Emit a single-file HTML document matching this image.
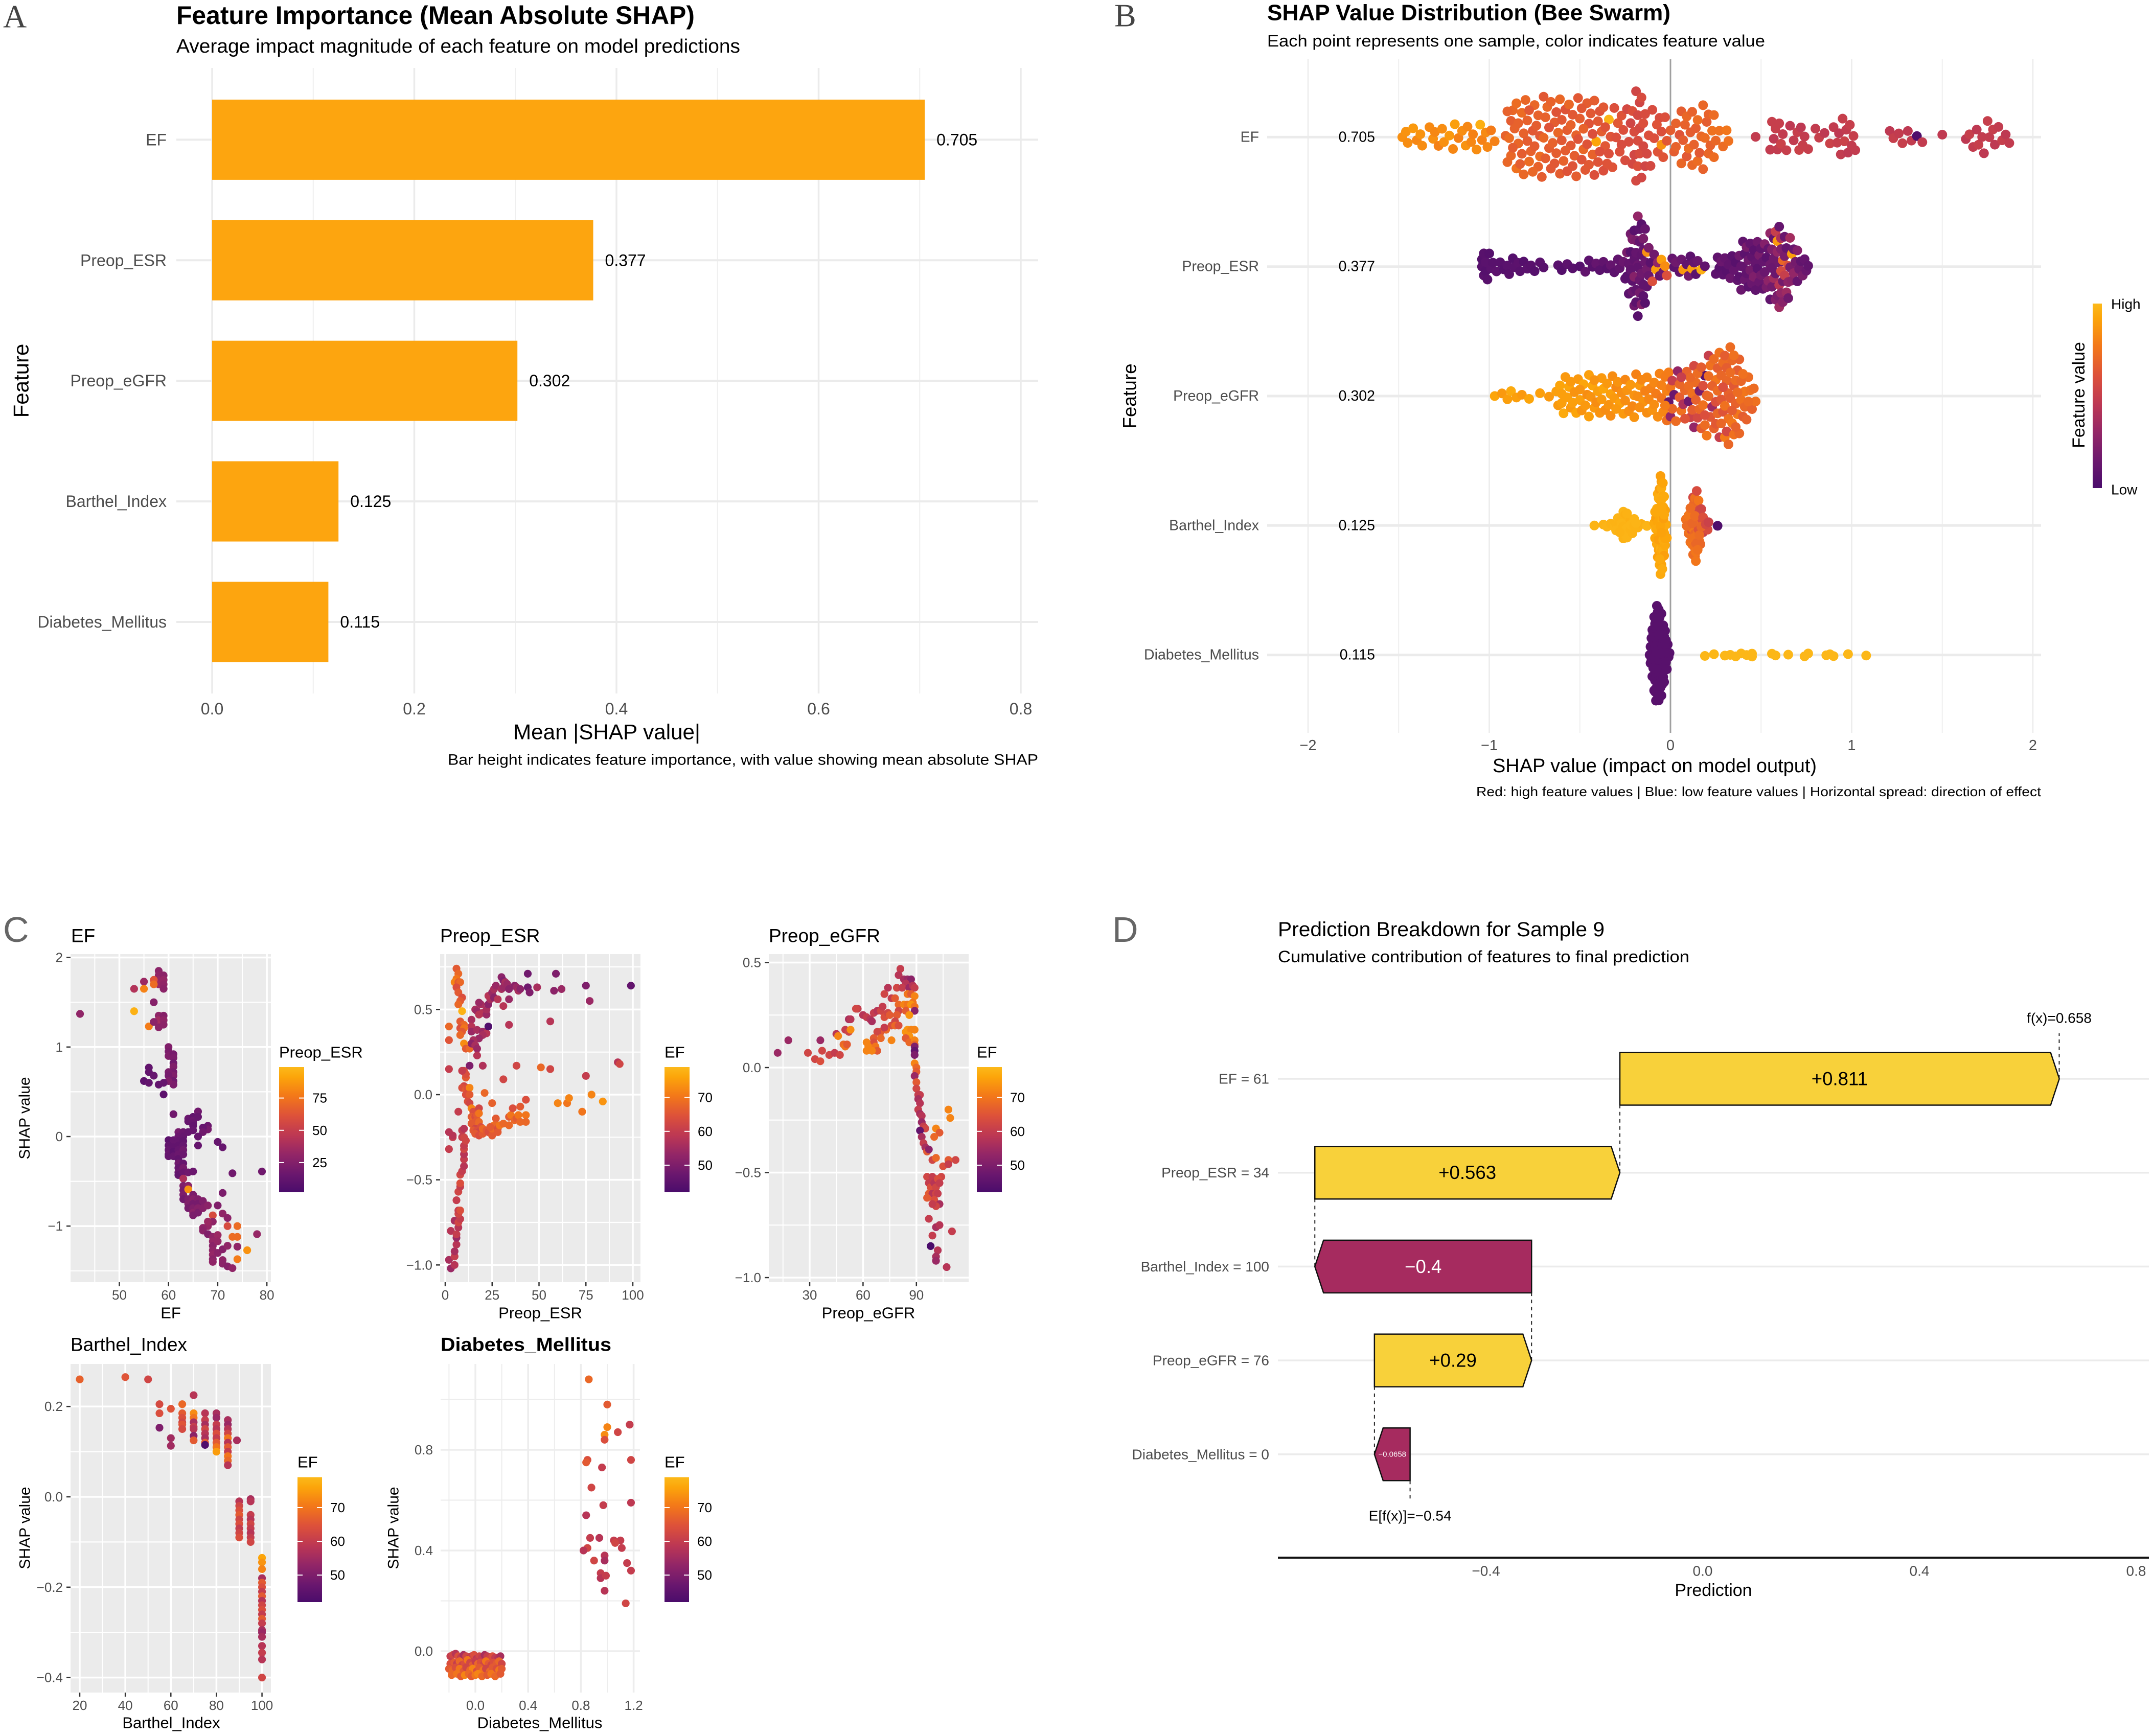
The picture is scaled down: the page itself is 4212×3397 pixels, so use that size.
<!DOCTYPE html>
<html lang="en">
<head>
<meta charset="utf-8">
<title>SHAP analysis figure</title>
<style>
html,body{margin:0;padding:0;background:#fff;}
svg{display:block;font-family:"Liberation Sans",Arial,sans-serif;}
text{dominant-baseline:central;}
</style>
</head>
<body>
<svg id="chart-root" xmlns="http://www.w3.org/2000/svg" width="4212" height="3397" viewBox="0 0 4212 3397">
<defs>
<linearGradient id="palette-gradient" x1="0" y1="1" x2="0" y2="0">
<stop offset="0" stop-color="#4a0c6b"/><stop offset="0.14" stop-color="#6a176e"/><stop offset="0.3" stop-color="#932667"/><stop offset="0.45" stop-color="#bc3754"/><stop offset="0.61" stop-color="#dd513a"/><stop offset="0.77" stop-color="#f37819"/><stop offset="0.92" stop-color="#fca50a"/><stop offset="1" stop-color="#fcb91a"/>
</linearGradient>
</defs>
<rect x="0" y="0" width="4212" height="3397" fill="#ffffff"/>

<g id="panel-a"></g>
<g id="panel-b"></g>
<g id="panel-c"></g>
<g id="panel-d"></g>

<g fill="#333">
<text x="6" y="32" font-size="64" font-family="Liberation Serif, serif" fill="#444">A</text>
<text x="2180" y="30" font-size="64" font-family="Liberation Serif, serif" fill="#444">B</text>
<text x="6" y="1819" font-size="70" fill="#666">C</text>
<text x="2176" y="1819" font-size="70" fill="#666">D</text>
</g>

<g fill="#000">
<text x="345" y="30" font-size="50" font-weight="700" textLength="1014" lengthAdjust="spacingAndGlyphs">Feature Importance (Mean Absolute SHAP)</text>
<text x="345" y="91" font-size="38" textLength="1103" lengthAdjust="spacingAndGlyphs">Average impact magnitude of each feature on model predictions</text>
<text x="1187" y="1432" font-size="42" text-anchor="middle" textLength="366" lengthAdjust="spacingAndGlyphs">Mean |SHAP value|</text>
<text x="2031" y="1487" font-size="30" text-anchor="end" textLength="1155" lengthAdjust="spacingAndGlyphs">Bar height indicates feature importance, with value showing mean absolute SHAP</text>
<text transform="translate(41,745) rotate(-90)" font-size="42" text-anchor="middle">Feature</text>
</g>

<g fill="#000">
<text x="2479" y="25" font-size="44" font-weight="700" textLength="789" lengthAdjust="spacingAndGlyphs">SHAP Value Distribution (Bee Swarm)</text>
<text x="2479" y="80" font-size="32" textLength="974" lengthAdjust="spacingAndGlyphs">Each point represents one sample, color indicates feature value</text>
<text x="3237" y="1499" font-size="38" text-anchor="middle" textLength="634" lengthAdjust="spacingAndGlyphs">SHAP value (impact on model output)</text>
<text x="3993" y="1549" font-size="26" text-anchor="end" textLength="1105" lengthAdjust="spacingAndGlyphs">Red: high feature values | Blue: low feature values | Horizontal spread: direction of effect</text>
<text transform="translate(2210,775) rotate(-90)" font-size="37" text-anchor="middle">Feature</text>
<text transform="translate(4067,773) rotate(-90)" font-size="34" text-anchor="middle">Feature value</text>
<rect x="4094" y="594" width="18" height="361" fill="url(#palette-gradient)"/>
<text x="4130" y="595" font-size="28">High</text>
<text x="4130" y="958" font-size="28">Low</text>
</g>

<g fill="#000">
<text x="139" y="1831" font-size="37">EF</text>
<text x="861" y="1831" font-size="37">Preop_ESR</text>
<text x="1504" y="1831" font-size="37">Preop_eGFR</text>
<text x="138" y="2631" font-size="37" textLength="228" lengthAdjust="spacingAndGlyphs">Barthel_Index</text>
<text x="862" y="2631" font-size="37" font-weight="700" textLength="334" lengthAdjust="spacingAndGlyphs">Diabetes_Mellitus</text>
<text x="334" y="2569" font-size="31" text-anchor="middle">EF</text>
<text x="1057" y="2569" font-size="31" text-anchor="middle">Preop_ESR</text>
<text x="1699" y="2569" font-size="31" text-anchor="middle">Preop_eGFR</text>
<text x="335" y="3371" font-size="31" text-anchor="middle">Barthel_Index</text>
<text x="1056" y="3371" font-size="31" text-anchor="middle">Diabetes_Mellitus</text>
<text transform="translate(48.5,2188) rotate(-90)" font-size="30" text-anchor="middle">SHAP value</text>
<text transform="translate(49,2990) rotate(-90)" font-size="30" text-anchor="middle">SHAP value</text>
<text transform="translate(770,2990) rotate(-90)" font-size="30" text-anchor="middle">SHAP value</text>
<text x="546" y="2059" font-size="31">Preop_ESR</text>
<text x="1300" y="2059" font-size="31">EF</text>
<text x="1911" y="2059" font-size="31">EF</text>
<text x="582" y="2861" font-size="31">EF</text>
<text x="1300" y="2861" font-size="31">EF</text>
</g>

<g fill="#000">
<text x="2500" y="1819" font-size="40" textLength="639" lengthAdjust="spacingAndGlyphs">Prediction Breakdown for Sample 9</text>
<text x="2500" y="1872" font-size="32" textLength="805" lengthAdjust="spacingAndGlyphs">Cumulative contribution of features to final prediction</text>
<text x="3352" y="3112" font-size="34" text-anchor="middle">Prediction</text>
</g>
</svg>

<script>
/* ---------- Panel A data ---------- */
const importanceFeatures=['EF','Preop_ESR','Preop_eGFR','Barthel_Index','Diabetes_Mellitus'];
const importanceValues=[0.705,0.377,0.302,0.125,0.115];
const importanceTicks=[0,0.2,0.4,0.6,0.8];

/* ---------- Panel B data ---------- */
const beeTicks=[-2,-1,0,1,2];
const beeBandwidths=[0.03,0.02,0.028,0.012,0.012];
const beeEfShap=[
-1.48,-1.46,-1.45,-1.42,-1.4,-1.38,-1.37,-1.33,-1.31,-1.3,
-1.28,-1.26,-1.25,-1.22,-1.2,-1.19,-1.17,-1.15,-1.13,-1.12,
-1.1,-1.09,-1.07,-1.05,-1.04,-1.02,-1.01,-0.99,-0.97,
-0.91,-0.9,-0.89,-0.88,-0.87,-0.86,-0.85,-0.84,-0.83,-0.82,
-0.81,-0.8,-0.79,-0.78,-0.77,-0.76,-0.75,-0.74,-0.73,-0.72,
-0.71,-0.7,-0.69,-0.68,-0.67,-0.66,-0.65,-0.64,-0.63,-0.62,
-0.61,-0.6,-0.59,-0.58,-0.57,-0.56,-0.55,-0.54,-0.53,-0.52,
-0.51,-0.5,-0.49,-0.48,-0.47,-0.46,-0.45,-0.44,-0.43,-0.42,
-0.41,-0.4,-0.39,-0.38,-0.37,-0.36,-0.35,-0.34,-0.33,-0.31,
-0.29,-0.27,
-0.24,-0.23,-0.22,-0.21,-0.21,-0.2,-0.2,-0.19,-0.19,-0.18,
-0.18,-0.18,-0.17,-0.17,-0.17,-0.16,-0.16,-0.15,-0.15,-0.14,
-0.14,-0.13,-0.12,-0.11,-0.1,
-0.09,-0.07,-0.06,-0.05,-0.04,-0.03,-0.02,0,
0.02,0.03,0.05,0.06,0.07,0.08,0.09,0.1,0.11,0.12,
0.13,0.14,0.15,0.16,0.17,0.18,0.19,0.2,0.21,0.22,
0.23,0.24,0.25,0.27,0.29,0.31,0.32,
0.47,
0.55,0.56,0.57,0.58,0.59,0.6,0.61,0.62,0.64,0.66,
0.68,0.7,0.71,0.72,0.73,0.74,0.76,0.8,0.82,0.85,
0.88,0.9,0.92,0.93,0.94,0.95,0.96,0.97,0.98,0.99,
1,1.01,1.02,
1.21,1.23,1.26,1.28,1.31,1.33,1.36,1.39,
1.5,
1.63,1.65,1.67,1.69,1.7,1.72,1.73,1.75,1.76,1.78,
1.79,1.81,1.83,1.85,1.87,
-0.9,-0.88,-0.87,-0.85,-0.84,-0.82,-0.81,-0.79,-0.78,-0.76,
-0.75,-0.73,-0.72,-0.7,-0.69,-0.67,-0.66,-0.64,-0.63,-0.61,
-0.6,-0.58,-0.57,-0.55,-0.54,-0.52,-0.51,-0.49,-0.48,-0.46,
-0.45,-0.43,-0.42,-0.4,-0.39,-0.37,-0.36,-0.34,-0.32,-0.3,
-0.28,-0.27,-0.26,-0.25,-0.075,-0.05,0.03,0.06,0.09,0.12,
0.15,0.18,0.21,0.24
];
const beeEfColor=[
.85,.86,.84,.88,.82,.86,.84,.83,.85,.82,
.8,.84,.85,.88,.82,.9,.8,.84,.86,.82,
.82,.8,.84,.96,.8,.83,.82,.78,.8,
.68,.7,.72,.66,.7,.68,.74,.7,.66,.72,
.68,.7,.66,.72,.68,.64,.7,.66,.68,.72,
.66,.64,.68,.7,.66,.64,.68,.66,.62,.7,
.66,.64,.68,.62,.66,.7,.64,.62,.66,.68,
.64,.66,.62,.7,.64,.66,.62,.64,.68,.6,
.92,.64,.62,.66,.6,.64,.62,.98,.62,.6,
.64,.62,
.56,.58,.54,.56,.6,.55,.58,.56,.54,.58,
.56,.6,.54,.58,.56,.55,.58,.56,.6,.54,
.58,.56,.6,.56,.58,
.6,.62,.58,.86,.62,.6,.64,.66,
.66,.68,.62,.7,.66,.68,.64,.72,.66,.7,
.68,.66,.72,.64,.7,.68,.72,.66,.7,.68,
.74,.72,.7,.74,.72,.76,.74,
.48,
.48,.5,.46,.5,.48,.5,.52,.48,.5,.46,
.48,.5,.52,.46,.5,.48,.5,.48,.5,.46,
.52,.48,.5,.46,.48,.5,.52,.48,.46,.5,
.48,.5,.48,
.46,.5,.48,.5,.46,.48,.02,.48,
.47,
.46,.5,.48,.46,.5,.48,.46,.5,.48,.5,
.46,.48,.5,.46,.48,
.68,.7,.66,.72,.68,.66,.7,.68,.64,.7,
.66,.68,.64,.7,.66,.62,.68,.64,.66,.7,
.64,.66,.62,.68,.64,.66,.62,.64,.68,.62,
.64,.6,.66,.62,.6,.64,.62,.6,.62,.6,
.6,.58,.6,.58,.62,.6,.68,.66,.7,.68,
.72,.7,.68,.72
];
const beeEsrShap=[
-1.04,-1.04,-1.03,-1.03,-1.02,-1.02,-1.01,-1,-0.99,-0.98,
-0.96,-0.94,-0.92,-0.9,-0.89,-0.87,-0.86,-0.84,-0.83,-0.81,
-0.79,-0.77,-0.75,-0.72,-0.7,
-0.62,-0.6,-0.57,-0.54,-0.5,-0.47,-0.45,-0.43,-0.41,-0.39,
-0.37,-0.35,-0.33,-0.31,-0.29,
-0.28,-0.26,-0.25,-0.24,-0.24,-0.23,-0.23,-0.22,-0.22,-0.22,
-0.21,-0.21,-0.21,-0.2,-0.2,-0.2,-0.2,-0.19,-0.19,-0.19,
-0.19,-0.18,-0.18,-0.18,-0.18,-0.17,-0.17,-0.17,-0.17,-0.16,
-0.16,-0.16,-0.16,-0.15,-0.15,-0.15,-0.15,-0.14,-0.14,-0.14,
-0.13,-0.13,-0.13,-0.12,-0.12,-0.11,-0.1,-0.09,-0.08,-0.07,
-0.06,-0.05,-0.04,-0.03,-0.02,
0.01,0.02,0.03,0.05,0.06,0.07,0.09,0.1,0.11,0.12,
0.13,0.14,0.15,0.17,0.19,
0.25,0.26,0.27,0.28,0.29,0.3,0.31,0.32,0.33,0.34,
0.35,0.36,0.37,0.38,0.38,0.39,0.39,0.4,
0.4,0.41,0.41,0.42,0.42,0.43,0.43,0.44,0.44,0.45,
0.45,0.46,0.46,0.47,0.47,0.48,0.48,0.49,0.49,0.5,
0.5,0.51,0.51,0.52,0.52,0.53,0.53,0.54,0.54,0.55,
0.55,0.55,0.56,0.56,0.56,0.57,0.57,0.57,0.58,0.58,
0.58,0.59,0.59,0.59,0.6,0.6,0.6,0.6,0.61,0.61,
0.61,0.61,0.62,0.62,0.62,0.63,0.63,0.63,0.64,0.64,
0.65,0.65,0.65,0.66,0.66,0.67,0.67,0.68,0.68,0.69,
0.7,0.7,0.71,0.72,0.73,0.74,0.75,0.76
];
const beeEsrColor=[
.06,.05,.07,.06,.05,.07,.06,.05,.07,.06,
.08,.06,.05,.07,.06,.05,.07,.08,.06,.05,
.07,.06,.05,.07,.06,
.06,.05,.08,.06,.05,.1,.08,.06,.12,.07,
.1,.06,.12,.08,.1,
.1,.14,.08,.2,.06,.12,.08,.18,.1,.06,
.14,.22,.08,.1,.16,.06,.25,.12,.08,.2,
.1,.14,.06,.3,.1,.12,.18,.08,.14,.1,
.24,.06,.16,.12,.08,.2,.1,.14,.06,.12,
.18,.85,.1,.2,.14,.08,.6,.16,.9,.3,
.12,.9,.16,.84,.6,
.12,.08,.16,.1,.14,.88,.1,.18,.08,.9,
.12,.08,.14,.96,.1,
.08,.1,.06,.14,.08,.12,.06,.1,.14,.08,
.12,.06,.1,.16,.08,.12,.14,.1,
.12,.08,.14,.2,.1,.16,.08,.12,.18,.1,
.14,.08,.22,.12,.1,.16,.08,.2,.14,.1,
.18,.12,.1,.24,.14,.08,.2,.12,.28,.16,
.1,.3,.14,.22,.18,.12,.36,.16,.24,.5,
.14,.3,.2,.88,.44,.16,.34,.12,.56,.22,
.3,.4,.18,.7,.26,.14,.5,.2,.34,.12,
.28,.6,.16,.36,.2,.9,.26,.14,.3,.18,
.12,.24,.16,.1,.2,.12,.14,.1
];
const beeEgfrShap=[
-0.97,-0.93,-0.9,-0.88,-0.85,-0.82,-0.78,-0.72,-0.67,
-0.63,-0.62,-0.61,-0.6,-0.59,-0.58,-0.57,-0.56,-0.55,-0.54,
-0.53,-0.52,-0.51,-0.5,-0.49,-0.48,-0.47,-0.46,-0.45,-0.44,
-0.43,-0.42,-0.41,-0.4,-0.39,-0.38,-0.37,-0.36,-0.35,-0.34,
-0.33,-0.32,-0.31,-0.3,-0.29,-0.28,-0.27,-0.26,-0.25,-0.24,
-0.23,-0.22,-0.21,-0.2,-0.19,-0.18,-0.17,-0.16,-0.15,-0.14,
-0.13,-0.12,-0.11,-0.1,-0.09,-0.08,-0.07,-0.06,-0.05,-0.04,
-0.03,-0.02,-0.02,-0.01,-0.01,0,0,0.01,0.01,0.02,
0.03,0.04,0.05,0.06,0.07,0.08,0.09,0.1,0.1,0.11,
0.12,0.12,0.13,0.14,0.14,0.15,0.16,0.16,0.17,0.18,
0.18,0.19,0.19,0.2,0.2,0.21,0.21,0.22,0.22,0.23,
0.24,0.24,0.25,0.25,0.26,0.26,0.27,0.27,0.28,0.28,
0.29,0.29,0.3,0.3,0.31,0.31,0.32,0.32,0.33,0.33,
0.34,0.34,0.35,0.35,0.36,0.36,0.37,0.37,0.38,0.38,
0.39,0.4,0.41,0.41,0.42,0.43,0.44,0.45,0.46,0.47,
-0.6,-0.55,-0.5,-0.45,-0.42,-0.38,-0.33,-0.3,-0.25,-0.2,
-0.17,-0.13,-0.09,-0.05,-0.03,
0.05,0.08,0.11,0.13,0.15,0.17,0.19,0.21,0.23,0.25,
0.26,0.28,0.29,0.3,0.31,0.32,0.33,0.34,0.35,0.36,
0.37,0.39,0.4,0.43,0.06
];
const beeEgfrColor=[
.92,.88,.9,.94,.9,.88,.92,.9,.88,
.9,.88,.92,.9,.94,.88,.9,.92,.88,.9,
.86,.92,.88,.9,.86,.92,.88,.84,.9,.86,
.92,.88,.84,.9,.86,.88,.92,.84,.88,.86,
.9,.84,.88,.82,.86,.9,.84,.88,.82,.86,
.84,.88,.82,.86,.8,.84,.88,.82,.86,.8,
.84,.82,.8,.86,.82,.78,.84,.8,.76,.82,
.78,.8,.74,.78,.12,.76,.3,.5,.7,.14,
.72,.3,.66,.74,.4,.7,.68,.16,.72,.52,
.66,.74,.3,.68,.72,.56,.7,.2,.66,.74,
.6,.72,.06,.68,.76,.5,.7,.64,.74,.34,
.68,.72,.6,.76,.66,.7,.5,.74,.64,.7,
.72,.62,.78,.66,.7,.56,.74,.68,.72,.66,
.76,.7,.64,.74,.68,.72,.66,.76,.7,.68,
.74,.66,.7,.76,.68,.72,.74,.68,.72,.74,
.9,.88,.86,.9,.86,.88,.84,.88,.84,.86,
.84,.82,.84,.8,.78,
.7,.62,.7,.56,.72,.66,.6,.72,.68,.64,
.72,.7,.6,.74,.66,.7,.72,.66,.74,.68,
.72,.7,.74,.72,.5
];
const beeBarthelShap=[
-0.42,-0.37,-0.35,-0.33,-0.31,-0.3,-0.29,-0.28,-0.27,-0.27,
-0.26,-0.26,-0.25,-0.25,-0.25,-0.24,-0.24,-0.23,-0.23,-0.22,
-0.21,-0.2,-0.18,-0.16,-0.13,
-0.09,-0.085,-0.08,-0.08,-0.075,-0.075,-0.07,-0.07,-0.07,-0.065,
-0.065,-0.065,-0.06,-0.06,-0.06,-0.06,-0.055,-0.055,-0.055,-0.055,
-0.05,-0.05,-0.05,-0.05,-0.05,-0.045,-0.045,-0.045,-0.045,-0.04,
-0.04,-0.04,-0.04,-0.035,-0.035,-0.035,-0.03,-0.03,-0.025,-0.02,
0.095,0.1,0.105,0.11,0.11,0.115,0.115,0.12,0.12,0.12,
0.125,0.125,0.125,0.13,0.13,0.13,0.135,0.135,0.135,0.135,
0.14,0.14,0.14,0.14,0.145,0.145,0.145,0.15,0.15,0.15,
0.155,0.155,0.155,0.16,0.16,0.165,0.165,0.17,0.175,0.18,
0.19,0.205,
0.26,
-0.3,-0.28,-0.27,-0.26,-0.25,-0.24,-0.24,-0.22,-0.22,-0.2,
-0.19,-0.28,
-0.085,-0.075,-0.07,-0.065,-0.06,-0.058,-0.055,-0.052,-0.05,-0.048,
-0.045,-0.042,-0.04,-0.038,-0.035,-0.03,-0.06,-0.05,
0.085,0.09,0.1,0.11,0.12,0.13,0.135,0.14,0.145,0.15,
0.16,0.17,0.18,0.195,0.21
];
const beeBarthelColor=[
.98,.97,.98,.97,.98,.97,.98,.97,.98,.96,
.97,.98,.97,.98,.96,.97,.98,.97,.98,.96,
.97,.98,.97,.96,.98,
.93,.92,.94,.9,.93,.95,.92,.9,.94,.93,
.91,.95,.92,.94,.9,.93,.96,.92,.94,.9,
.93,.95,.91,.94,.92,.9,.96,.93,.94,.91,
.92,.95,.93,.9,.94,.92,.93,.91,.94,.92,
.74,.72,.76,.7,.74,.62,.72,.76,.7,.74,
.72,.56,.76,.72,.74,.7,.78,.72,.74,.7,
.76,.72,.7,.74,.58,.76,.72,.7,.74,.72,
.76,.62,.72,.74,.56,.72,.7,.54,.6,.5,
.52,.58,
.02,
.98,.97,.98,.97,.98,.97,.98,.97,.98,.97,
.98,.97,
.93,.92,.94,.9,.93,.95,.92,.94,.9,.93,
.95,.92,.94,.9,.93,.92,.94,.91,
.74,.72,.76,.72,.7,.74,.72,.76,.7,.74,
.72,.7,.6,.56,.52
];
const beeDiabetesShap=[
-0.115,-0.11,-0.11,-0.105,-0.105,-0.1,-0.1,-0.1,-0.095,-0.095,
-0.095,-0.09,-0.09,-0.09,-0.09,-0.085,-0.085,-0.085,-0.085,-0.08,
-0.08,-0.08,-0.08,-0.08,-0.075,-0.075,-0.075,-0.075,-0.07,-0.07,
-0.07,-0.07,-0.07,-0.065,-0.065,-0.065,-0.065,-0.06,-0.06,-0.06,
-0.06,-0.055,-0.055,-0.055,-0.05,-0.05,-0.05,-0.045,-0.045,-0.04,
-0.04,-0.035,-0.035,-0.03,-0.03,-0.025,-0.02,-0.015,-0.01,-0.005,
0.19,0.24,0.3,0.33,0.36,0.39,0.42,0.45,0.45,0.56,
0.58,0.65,0.74,0.76,0.86,0.88,0.9,0.98,1.08,
-0.1,-0.095,-0.09,-0.085,-0.08,-0.08,-0.075,-0.07,-0.07,-0.065,
-0.06,-0.06,-0.055,-0.055,-0.05,-0.05,-0.045,-0.045,-0.04,-0.04,
-0.035,-0.035,-0.03,-0.03,-0.025,-0.02,-0.065,-0.075,-0.085,-0.055
];
const beeDiabetesColor=[
.06,.06,.06,.06,.06,.06,.06,.06,.06,.06,
.06,.06,.06,.06,.06,.06,.06,.06,.06,.06,
.06,.06,.06,.06,.06,.06,.06,.06,.06,.06,
.06,.06,.06,.06,.06,.06,.06,.06,.06,.06,
.06,.06,.06,.06,.06,.06,.06,.06,.06,.06,
.06,.06,.06,.06,.06,.06,.06,.06,.06,.06,
.99,.99,.99,.99,.99,.99,.99,.99,.99,.99,
.99,.99,.99,.99,.99,.99,.99,.99,.99,
.06,.06,.06,.06,.06,.06,.06,.06,.06,.06,
.06,.06,.06,.06,.06,.06,.06,.06,.06,.06,
.06,.06,.06,.06,.06,.06,.06,.06,.06,.06
];

/* ---------- Panel C data ---------- */
const efPanelXTicks=[50,60,70,80];
const efPanelYTicks=[2,1,0,-1];
const efPanelLegendTicks=[75,50,25];
const efPanelX=[
58,58,58,58,59,59,59,59,57,57,55,53,
55,57,42,53,56,58,58,58,58,59,59,59,
57,60,60,60,61,61,61,61,61,61,61,61,
60,60,60,56,56,57,55,56,58,59,59,61,
64,64,65,65,65,65,66,66,68,68,67,67,
65,66,66,60,61,62,62,62,63,63,63,64,
60,60,60,60,61,61,61,62,62,62,62,62,
62,62,62,63,63,63,63,63,63,64,65,70,
71,73,79,63,63,63,63,63,64,64,64,64,
64,65,65,65,65,65,65,66,66,66,66,67,
67,68,70,71,71,72,69,69,68,68,67,67,
68,69,69,69,69,69,69,69,70,70,70,71,
71,71,72,72,72,73,74,74,74,74,73,76,78
];
const efPanelShap=[
1.85,1.8,1.75,1.7,1.8,1.75,1.7,1.65,1.75,1.7,1.73,1.65,
1.65,1.5,1.37,1.4,1.23,1.35,1.3,1.25,1.22,1.35,1.3,1.25,
1.28,1,.95,.9,.92,.88,.82,.78,.72,.68,.62,.58,
.72,.68,.62,.77,.72,.68,.62,.6,.58,.6,.47,.25,
.2,.17,.22,.18,.15,.12,.28,.22,.12,.08,.1,.05,
.07,0,-.1,-.04,-.04,.05,0,-.05,.05,0,-.05,.05,
-.1,-.15,-.2,-.22,-.12,-.17,-.22,-.1,-.15,-.2,-.25,-.3,
-.35,-.4,-.43,-.1,-.15,-.2,-.3,-.35,-.4,-.4,-.39,-.06,
-.12,-.41,-.39,-.47,-.55,-.6,-.65,-.7,-.55,-.59,-.7,-.75,
-.8,-.65,-.7,-.75,-.8,-.85,-.88,-.7,-.75,-.8,-.85,-.72,
-.8,-.77,-.77,-.63,-.86,-.91,-.88,-.95,-1,-.95,-1.02,-1.05,
-1.09,-1.12,-1.17,-1.22,-1.27,-1.32,-1.37,-1.4,-1.1,-1.17,-1.3,-1.26,
-1.38,-1.42,-1,-1.22,-1.45,-1.47,-1,-1.12,-1.23,-1.37,-1.12,-1.27,-1.09
];
const efPanelColor=[
28,30,32,34,28,32,30,28,62,72,34,42,
80,26,30,96,78,30,36,38,28,26,30,28,
28,24,22,24,20,22,18,24,20,24,18,22,
22,20,24,12,12,14,10,12,12,14,10,18,
16,14,12,16,14,12,18,14,16,20,14,18,
14,14,14,10,14,20,16,14,16,14,12,14,
12,14,16,14,12,10,14,12,14,16,12,18,
14,16,12,14,18,16,14,20,16,18,16,14,
14,18,18,40,24,20,22,18,28,85,22,24,
20,22,26,20,24,28,22,24,20,26,22,24,
26,28,24,22,30,28,58,30,32,34,30,28,
24,30,32,28,30,32,28,30,34,32,28,26,
30,28,58,30,26,30,72,72,30,78,72,85,32
];
const esrPanelXTicks=[0,25,50,75,100];
const esrPanelYTicks=[0.5,0,-0.5,-1];
const esrPanelLegendTicks=[70,60,50];
const esrPanelX=[
3,2,5,5,5,6,6,3,6,7,5,7,
8,7,7,8,6,7,8,8,8,9,10,10,
10,10,10,11,9,10,9,10,2,4,2,4,
10,11,11,10,9,11,12,13,12,11,13,12,
13,7,21,25,
14,15,14,15,16,17,18,18,16,17,15,14,
16,18,19,15,17,18,16,18,20,20,
22,23,25,25,26,27,27,28,28,29,31,24,
34,34,35,36,37,38,39,40,40,43,43,43,
60,65,66,73,78,84,
51,56,38,31,20,13,2,9,75,92,93,
6,7,6,5,7,8,6,7,9,8,7,9,
2,2,8,10,8,10,9,8,10,11,13,
14,14,14,17,20,22,20,23,18,15,14,16,17,17,
16,17,18,19,18,20,22,22,23,24,23,25,
26,26,27,28,30,31,30,31,32,33,34,34,
31,37,38,39,40,44,45,49,44,59,58,62,
75,77,99,34,56
];
const esrPanelShap=[
-1.02,-.97,-1,-.95,-.92,-.88,-.84,-.8,-.82,-.78,-.74,-.75,
-.73,-.7,-.68,-.68,-.62,-.57,-.54,-.52,-.47,-.45,-.42,-.38,
-.35,-.32,-.3,-.27,-.25,-.25,-.21,-.2,-.22,-.25,-.32,-.24,
.14,.1,.12,.05,.04,.03,.04,.04,0,0,0,-.04,
-.05,-.1,.01,-.05,
-.08,-.1,-.13,-.14,-.13,-.12,-.08,-.11,-.16,-.17,-.18,-.17,
-.2,-.16,-.19,-.21,-.21,-.22,-.23,-.24,-.23,-.2,
-.21,-.22,-.24,-.2,-.18,-.14,-.18,-.2,-.22,-.18,-.17,-.19,
-.18,-.13,-.12,-.08,-.15,-.14,-.12,-.16,-.07,-.12,-.16,-.03,
-.05,-.05,-.02,-.1,0,-.04,
.16,.15,.17,.09,.17,.17,.15,.14,.11,.19,.18,
.74,.71,.68,.66,.66,.66,.63,.6,.57,.55,.53,.49,
.4,.32,.43,.41,.39,.39,.37,.35,.3,.27,.27,
.44,.4,.37,.38,.37,.36,.35,.4,.33,.32,.3,.29,.27,.23,
.5,.49,.47,.53,.54,.48,.47,.5,.53,.56,.58,.6,
.57,.62,.64,.56,.62,.63,.69,.67,.66,.65,.62,.56,
.52,.64,.63,.61,.62,.63,.6,.63,.71,.71,.61,.62,
.64,.55,.64,.41,.43
];
const esrPanelColor=[
54,56,58,60,56,58,54,58,60,58,56,62,
60,62,60,64,60,62,60,64,62,60,58,60,
58,62,60,62,60,62,60,58,58,60,60,58,
62,66,64,62,64,66,64,72,62,64,66,64,
62,60,68,67,
72,64,66,68,64,66,62,70,66,64,68,66,
62,68,64,66,64,62,66,64,66,68,
66,64,66,68,70,66,68,64,66,70,68,66,
68,66,70,64,68,66,70,68,66,70,68,64,
72,70,72,70,72,74,
68,62,62,62,57,50,60,60,60,58,62,
66,68,70,72,66,68,64,66,64,66,68,78,
68,65,66,68,64,70,66,68,73,66,68,
56,58,54,56,54,58,56,43,54,56,52,56,54,58,
56,54,58,56,54,58,54,56,52,56,58,54,
52,56,54,58,56,54,52,50,56,54,52,54,
58,52,54,56,52,48,50,56,48,50,52,54,
50,54,46,58,58
];
const egfrPanelXTicks=[30,60,90];
const egfrPanelYTicks=[0.5,0,-0.5,-1];
const egfrPanelLegendTicks=[70,60,50];
const egfrPanelX=[
12,18,29,33,36,37,36,41,44,45,47,46,49,50,51,
50,52,53,52,53,57,56,60,62,64,65,66,68,70,71,72,74,75,76,73,70,68,66,66,70,72,62,63,62,67,68,65,76,
81,80,79,83,85,86,87,84,82,86,88,89,85,87,89,88,74,72,76,78,80,80,83,85,87,89,89,84,86,79,78,78,80,85,84,87,86,89,84,86,89,89,89,89,89,
89,90,90,89,90,90,91,92,91,92,91,92,93,93,94,95,92,93,94,95,96,101,103,100,108,109,
97,99,101,108,112,105,108,104,
96,97,98,99,100,101,102,103,97,99,101,102,100,96,103,101,99,97,101,103,99,110,98,102,101,101,107
];
const egfrPanelShap=[
.07,.13,.07,.04,.03,.08,.13,.06,.07,.16,.06,.15,.11,.1,.11,
.18,.17,.18,.23,.23,.28,.28,.25,.24,.23,.22,.26,.27,.27,.29,.24,.26,.25,.2,.18,.17,.17,.14,.12,.14,.19,.12,.1,.08,.1,.08,.08,.13,
.47,.44,.38,.42,.42,.41,.42,.4,.38,.38,.39,.38,.35,.35,.34,.31,.38,.35,.33,.33,.3,.27,.3,.3,.3,.29,.27,.27,.25,.25,.22,.2,.2,.18,.17,.18,.15,.18,.14,.12,.13,.11,.1,.08,.06,
.02,0,-.02,-.04,-.07,-.1,-.13,-.13,-.15,-.17,-.2,-.22,-.23,-.26,-.28,-.29,-.3,-.33,-.36,-.38,-.4,-.29,-.31,-.33,-.2,-.24,
-.39,-.44,-.43,-.44,-.44,-.47,-.46,-.52,
-.52,-.55,-.57,-.52,-.55,-.57,-.53,-.55,-.6,-.6,-.6,-.6,-.63,-.62,-.65,-.66,-.65,-.72,-.76,-.75,-.8,-.78,-.85,-.87,-.9,-.92,-.95
];
const egfrPanelColor=[
54,54,62,62,64,62,54,62,60,58,62,72,68,70,66,
60,62,73,56,58,60,62,58,60,58,56,60,58,62,60,64,62,66,64,68,66,62,66,64,68,60,72,72,72,70,66,72,72,
60,58,62,56,54,56,52,58,60,54,58,60,70,66,72,70,58,62,60,66,68,62,72,70,74,70,52,66,74,66,62,68,64,74,74,72,74,72,66,68,72,68,50,46,50,
72,68,66,54,66,62,60,60,56,58,60,56,58,54,60,62,46,56,60,56,66,72,66,68,72,72,
52,62,68,66,62,64,60,62,
62,60,64,60,58,62,64,60,66,58,62,60,64,66,56,62,60,60,56,58,60,60,42,58,56,54,58
];
const barthelPanelXTicks=[20,40,60,80,100];
const barthelPanelYTicks=[0.2,0,-0.2,-0.4];
const barthelPanelLegendTicks=[70,60,50];
const barthelPanelX=[
20,40,50,55,55,55,60,60,60,65,65,65,65,65,65,
70,70,70,70,70,70,70,70,
75,75,75,75,75,75,75,75,
80,80,80,80,80,80,80,80,80,
85,85,85,85,85,85,85,85,85,85,85,89,
90,90,90,90,90,90,90,90,90,
95,95,95,95,95,95,95,95,95,
100,100,100,100,100,100,100,100,100,100,100,100,100,100,100,100,100,100,100,100,100
];
const barthelPanelShap=[
.26,.265,.26,.205,.185,.153,.195,.13,.113,.205,.185,.175,.165,.16,.15,
.225,.185,.175,.165,.155,.15,.135,.125,
.185,.17,.16,.15,.14,.13,.12,.115,
.185,.175,.16,.15,.14,.13,.12,.11,.1,
.17,.16,.15,.14,.13,.12,.11,.1,.09,.08,.07,.125,
-.01,-.02,-.03,-.04,-.05,-.06,-.07,-.08,-.09,
-.005,-.01,-.04,-.05,-.06,-.07,-.08,-.09,-.1,
-.135,-.145,-.16,-.18,-.19,-.2,-.21,-.22,-.23,-.24,-.25,-.26,-.27,-.28,-.295,-.3,-.31,-.33,-.345,-.36,-.4
];
const barthelPanelColor=[
67,65,62,63,64,50,65,55,55,68,66,64,62,65,63,
58,73,70,56,60,58,52,66,
58,60,56,62,58,56,66,43,
56,54,60,58,64,60,66,70,75,
56,54,58,62,70,58,66,60,70,68,58,56,
58,62,64,66,62,64,60,62,64,
56,58,60,58,62,60,58,60,62,
76,74,72,56,66,64,60,66,58,62,64,60,66,60,56,54,56,58,60,58,62
];
const diabetesPanelXTicks=[0,0.4,0.8,1.2];
const diabetesPanelYTicks=[0,0.4,0.8];
const diabetesPanelLegendTicks=[70,60,50];
const diabetesPanelX=[
.86,1,1.17,1,1.08,.98,.98,.85,.84,1.18,.96,.88,.97,1.18,.84,.87,.94,
1.05,1.1,1.06,1.11,.85,.82,.98,.98,.9,1.15,1.18,.95,.95,.99,.98,1.14,
-.19,-.17,-.15,-.13,-.11,-.09,-.07,-.05,-.03,-.01,.01,.03,.05,.07,.09,.11,.13,.15,.17,.19,
-.19,-.16,-.14,-.12,-.1,-.08,-.06,-.04,-.02,0,.02,.04,.06,.08,.1,.12,.14,.16,.18,.2,
-.2,-.17,-.15,-.12,-.09,-.07,-.04,-.02,.01,.03,.06,.08,.11,.13,.16,.18,.2,
-.18,-.14,-.11,-.08,-.05,-.03,0,.02,.05,.09,.12,.15,.19
];
const diabetesPanelShap=[
1.08,.98,.9,.89,.87,.86,.84,.76,.75,.76,.73,.65,.58,.59,.54,.45,.45,
.44,.44,.43,.41,.41,.4,.38,.36,.36,.35,.32,.31,.29,.3,.24,.19,
-.02,-.015,-.01,-.02,-.025,-.015,-.02,-.03,-.02,-.015,-.03,-.02,-.025,-.015,-.02,-.03,-.02,-.025,-.03,-.02,
-.05,-.045,-.05,-.04,-.055,-.05,-.035,-.045,-.055,-.04,-.05,-.045,-.055,-.04,-.05,-.055,-.045,-.05,-.04,-.05,
-.07,-.075,-.065,-.07,-.08,-.065,-.075,-.07,-.08,-.065,-.075,-.07,-.08,-.065,-.07,-.075,-.07,
-.095,-.09,-.1,-.095,-.09,-.1,-.095,-.09,-.1,-.095,-.09,-.1,-.09
];
const diabetesPanelColor=[
68,66,60,72,62,73,64,64,66,62,60,62,60,59,58,60,58,
60,60,62,60,62,58,58,56,62,60,60,60,58,60,58,62,
60,62,58,64,60,56,62,58,60,64,58,62,60,56,60,62,64,60,58,56,
64,66,60,68,62,64,70,62,66,60,68,64,62,70,66,62,64,66,68,62,
66,68,64,70,66,62,68,72,64,66,70,62,68,66,64,70,66,
68,70,66,72,68,66,70,72,68,66,70,68,66
];

/* ---------- Panel D data ---------- */
const waterfallLabels=['EF = 61','Preop_ESR = 34','Barthel_Index = 100','Preop_eGFR = 76','Diabetes_Mellitus = 0'];
const waterfallValues=[0.811,0.563,-0.4,0.29,-0.0658];
const waterfallBase=[-0.54];
const waterfallOutput=[0.658];
const waterfallTicks=[-0.4,0,0.4,0.8];

/* ---------- helpers ---------- */
const NS='http://www.w3.org/2000/svg';
const MINUS='\u2212';
const paletteStops=[[0,[74,12,107]],[.14,[106,23,110]],[.3,[147,38,103]],[.45,[188,55,84]],[.61,[221,81,58]],[.77,[243,120,25]],[.92,[252,165,10]],[1,[252,185,26]]];
function colorOf(t){
  t=Math.max(0,Math.min(1,t));
  for(let i=1;i<paletteStops.length;i++){
    if(t<=paletteStops[i][0]){
      const a=paletteStops[i-1],b=paletteStops[i],f=(t-a[0])/(b[0]-a[0]);
      return 'rgb('+a[1].map((v,k)=>Math.round(v+(b[1][k]-v)*f)).join(',')+')';
    }
  }
  return 'rgb(252,185,26)';
}
function make(tag,attrs,parent){
  const el=document.createElementNS(NS,tag);
  for(const k in attrs){el.setAttribute(k,attrs[k]);}
  parent.appendChild(el);
  return el;
}
function addLine(parent,x1,y1,x2,y2,stroke,width,name){
  const el=make('line',{x1:x1,y1:y1,x2:x2,y2:y2,stroke:stroke,'stroke-width':width},parent);
  
  
  return el;
}
function addLabel(parent,x,y,str,size,fill,anchor,name){
  const el=make('text',{x:x,y:y,'font-size':size,fill:fill,'text-anchor':anchor},parent);
  el.textContent=str;
  
  
  return el;
}
function addDot(parent,cx,cy,r,fill,name){
  const el=make('circle',{cx:cx,cy:cy,r:r,fill:fill},parent);
  
  
  return el;
}
function fmtTick(v,decimals){
  const s=Math.abs(v).toFixed(decimals);
  return (v<0?MINUS:'')+s;
}
function minorsOf(ticks){
  const sorted=ticks.slice().sort((a,b)=>a-b);
  const step=sorted[1]-sorted[0];
  const out=[sorted[0]-step/2];
  sorted.forEach(t=>out.push(t+step/2));
  return out;
}
function slug(s){return s.toLowerCase().replace(/[^a-z0-9]+/g,'-');}

/* ---------- Panel A ---------- */
(function(){
  const g=document.getElementById('panel-a');
  const xA=v=>415+v*1977.5;
  const yA=i=>273.4+i*235.9;
  minorsOf(importanceTicks).forEach(t=>{
    if(xA(t)>345&&xA(t)<2031){addLine(g,xA(t),133,xA(t),1357,'#efefef',2,'importance-minor-gridline');}
  });
  importanceTicks.forEach(t=>{
    addLine(g,xA(t),133,xA(t),1357,'#ebebeb',3.5,'importance-major-gridline');
    addLabel(g,xA(t),1387,t.toFixed(1),32,'#4d4d4d','middle','importance-x-tick-label');
  });
  importanceFeatures.forEach((f,i)=>{
    addLine(g,345,yA(i),2031,yA(i),'#ebebeb',4,'importance-row-gridline');
  });
  importanceFeatures.forEach((f,i)=>{
    const bar=make('rect',{x:xA(0),y:yA(i)-78.5,width:xA(importanceValues[i])-xA(0),height:157,fill:'#fda50f'},g);
    
    
    addLabel(g,326,yA(i),f,32,'#4d4d4d','end','importance-feature-label');
    addLabel(g,xA(importanceValues[i])+23,yA(i),importanceValues[i].toFixed(3),32,'#000','start','importance-value-label');
  });
})();

/* ---------- Panel B ---------- */
function vdc(n){let v=0,d=.5;while(n>0){if(n&1){v+=d;}n>>=1;d/=2;}return v;}
function swarmOffsets(vals,bw){
  const order=vals.map((v,i)=>i).sort((a,b)=>vals[a]-vals[b]);
  const dens=vals.map(v=>vals.reduce((s,u)=>s+Math.exp(-.5*Math.pow((u-v)/bw,2)),0));
  const m=Math.max.apply(null,dens);
  const out=new Array(vals.length);
  order.forEach((idx,r)=>{out[idx]=(2*vdc(r+1)-1)*dens[idx]/m;});
  return out;
}
(function(){
  const g=document.getElementById('panel-b');
  const xB=v=>3268+v*354.5;
  const yB=i=>268.4+i*253.3;
  const rowShap=[beeEfShap,beeEsrShap,beeEgfrShap,beeBarthelShap,beeDiabetesShap];
  const rowColor=[beeEfColor,beeEsrColor,beeEgfrColor,beeBarthelColor,beeDiabetesColor];
  minorsOf(beeTicks).forEach(t=>{
    if(xB(t)>2479&&xB(t)<3993){addLine(g,xB(t),116,xB(t),1434,'#efefef',2,'beeswarm-minor-gridline');}
  });
  beeTicks.forEach(t=>{
    addLine(g,xB(t),116,xB(t),1434,'#ebebeb',2.5,'beeswarm-major-gridline');
    addLabel(g,xB(t),1459,fmtTick(t,0),29,'#4d4d4d','middle','beeswarm-x-tick-label');
  });
  importanceFeatures.forEach((f,i)=>{
    addLine(g,2479,yB(i),3993,yB(i),'#ebebeb',5,'beeswarm-row-gridline');
    addLabel(g,2463,yB(i),f,28.5,'#4d4d4d','end','beeswarm-feature-label');
    addLabel(g,2690,yB(i),importanceValues[i].toFixed(3),28.5,'#000','end','beeswarm-mean-label');
  });
  addLine(g,xB(0),116,xB(0),1434,'#a0a0a0',3,'beeswarm-zero-line');
  importanceFeatures.forEach((f,i)=>{
    const off=swarmOffsets(rowShap[i],beeBandwidths[i]);
    const row=make('g',{},g);
    
    
    rowShap[i].forEach((v,k)=>{
      addDot(row,xB(v),yB(i)+off[k]*100,9.5,colorOf(rowColor[i][k]),'beeswarm-point');
    });
  });
})();

/* ---------- Panel C ---------- */
function drawDependence(c){
  const g=document.getElementById('panel-c');
  const panel=make('g',{},g);
  
  
  const bg=make('rect',{x:c.left,y:c.top,width:c.right-c.left,height:c.bottom-c.top,fill:c.minimal?'#ffffff':'#ebebeb'},panel);
  
  
  const gridColor=c.minimal?'#ededed':'#ffffff';
  minorsOf(c.xTicks).forEach(t=>{
    const p=c.xs(t);
    if(p>c.left&&p<c.right){addLine(panel,p,c.top,p,c.bottom,gridColor,2,c.name+'-minor-x-gridline');}
  });
  minorsOf(c.yTicks).forEach(t=>{
    const p=c.ys(t);
    if(p>c.top&&p<c.bottom){addLine(panel,c.left,p,c.right,p,gridColor,2.2,c.name+'-minor-y-gridline');}
  });
  c.xTicks.forEach(t=>{
    const p=c.xs(t);
    addLine(panel,p,c.top,p,c.bottom,gridColor,3.5,c.name+'-major-x-gridline');
    if(!c.minimal){addLine(panel,p,c.bottom,p,c.bottom+8,'#333',2.5,c.name+'-x-tick');}
    addLabel(panel,p,c.bottom+25,fmtTick(t,c.xDec),26,'#4d4d4d','middle',c.name+'-x-tick-label');
  });
  c.yTicks.forEach(t=>{
    const p=c.ys(t);
    addLine(panel,c.left,p,c.right,p,gridColor,3.5,c.name+'-major-y-gridline');
    if(!c.minimal){addLine(panel,c.left-8,p,c.left,p,'#333',2.5,c.name+'-y-tick');}
    addLabel(panel,c.left-15,p,fmtTick(t,c.yDec),26,'#4d4d4d','end',c.name+'-y-tick-label');
  });
  c.px.forEach((v,i)=>{
    addDot(panel,c.xs(v),c.ys(c.py[i]),7.6,colorOf((c.pc[i]-c.cMin)/(c.cMax-c.cMin)),c.name+'-point');
  });
  const bar=make('rect',{x:c.barX,y:c.barTop,width:c.barW,height:c.barBottom-c.barTop,fill:'url(#palette-gradient)'},panel);
  
  
  c.legendTicks.forEach(t=>{
    const p=c.barBottom-(t-c.cMin)/(c.cMax-c.cMin)*(c.barBottom-c.barTop);
    addLine(panel,c.barX,p,c.barX+10,p,'#ffffff',2,c.name+'-colorbar-tick');
    addLine(panel,c.barX+c.barW-10,p,c.barX+c.barW,p,'#ffffff',2,c.name+'-colorbar-tick');
    addLabel(panel,c.barX+c.barW+16,p,String(t),26,'#000','start',c.name+'-colorbar-label');
  });
}
drawDependence({name:'ef',left:138,right:530,top:1867,bottom:2509,xs:v=>233.5+(v-50)*9.62,ys:v=>2224-v*175.2,xTicks:efPanelXTicks,yTicks:efPanelYTicks,xDec:0,yDec:0,px:efPanelX,py:efPanelShap,pc:efPanelColor,cMin:2,cMax:99,barX:546,barW:49,barTop:2088,barBottom:2333,legendTicks:efPanelLegendTicks});
drawDependence({name:'esr',left:861,right:1253,top:1867,bottom:2509,xs:v=>871+v*3.67,ys:v=>2142-v*333.3,xTicks:esrPanelXTicks,yTicks:esrPanelYTicks,xDec:0,yDec:1,px:esrPanelX,py:esrPanelShap,pc:esrPanelColor,cMin:42,cMax:79,barX:1300,barW:49,barTop:2088,barBottom:2333,legendTicks:esrPanelLegendTicks});
drawDependence({name:'egfr',left:1504,right:1895,top:1867,bottom:2509,xs:v=>1584+(v-30)*3.48,ys:v=>2089-v*411,xTicks:egfrPanelXTicks,yTicks:egfrPanelYTicks,xDec:0,yDec:1,px:egfrPanelX,py:egfrPanelShap,pc:egfrPanelColor,cMin:42,cMax:79,barX:1911,barW:49,barTop:2088,barBottom:2333,legendTicks:egfrPanelLegendTicks});
drawDependence({name:'barthel',left:138,right:530,top:2669,bottom:3312,xs:v=>156+(v-20)*4.457,ys:v=>2929-v*884,xTicks:barthelPanelXTicks,yTicks:barthelPanelYTicks,xDec:0,yDec:1,px:barthelPanelX,py:barthelPanelShap,pc:barthelPanelColor,cMin:42,cMax:79,barX:582,barW:48,barTop:2890.5,barBottom:3135,legendTicks:barthelPanelLegendTicks});
drawDependence({name:'diabetes',minimal:true,left:862,right:1252,top:2669,bottom:3312,xs:v=>930+v*258,ys:v=>3231-v*492.5,xTicks:diabetesPanelXTicks,yTicks:diabetesPanelYTicks,xDec:1,yDec:1,px:diabetesPanelX,py:diabetesPanelShap,pc:diabetesPanelColor,cMin:42,cMax:79,barX:1300,barW:48,barTop:2890.5,barBottom:3135,legendTicks:diabetesPanelLegendTicks});

/* ---------- Panel D ---------- */
(function(){
  const g=document.getElementById('panel-d');
  const xD=v=>3331+v*1060;
  const yD=i=>2111+i*183.7;
  const half=51.5, notch=17;
  waterfallLabels.forEach((lab,i)=>{
    addLine(g,2500,yD(i),4204,yD(i),'#ebebeb',3.5,'waterfall-row-gridline');
    addLabel(g,2483,yD(i),lab,28,'#4d4d4d','end','waterfall-feature-label');
  });
  const n=waterfallValues.length;
  let cum=waterfallBase[0];
  const starts=new Array(n), ends=new Array(n);
  for(let i=n-1;i>=0;i--){
    starts[i]=cum;
    cum+=waterfallValues[i];
    ends[i]=cum;
  }
  waterfallValues.forEach((v,i)=>{
    const s=xD(starts[i]), e=xD(ends[i]), y=yD(i);
    const dir=v>=0?1:-1;
    const pts=[[s,y-half],[e-dir*notch,y-half],[e,y],[e-dir*notch,y+half],[s,y+half]].map(p=>p.join(',')).join(' ');
    if(i>0){
      const conn=addLine(g,e,y,e,yD(i-1)+half,'#222',2,'waterfall-connector');
      conn.setAttribute('stroke-dasharray','7 7');
    }
    const bar=make('polygon',{points:pts,fill:v>=0?'#f8d13a':'#a62b5f',stroke:'#111','stroke-width':2.5},g);
    
    
    const small=Math.abs(v)<0.1;
    const label=(v>=0?'+':MINUS)+String(Math.abs(v));
    addLabel(g,(s+e)/2,y,label,small?15:36.6,v>=0?'#000':'#fff','middle','waterfall-value-label');
  });
  const baseConn=addLine(g,xD(waterfallBase[0]),yD(n-1)+half,xD(waterfallBase[0]),yD(n-1)+half+38,'#222',2,'waterfall-base-connector');
  baseConn.setAttribute('stroke-dasharray','7 7');
  const fxConn=addLine(g,xD(waterfallOutput[0]),yD(0),xD(waterfallOutput[0]),2022,'#222',2,'waterfall-output-connector');
  fxConn.setAttribute('stroke-dasharray','7 7');
  addLabel(g,xD(waterfallOutput[0]),1992,'f(x)='+waterfallOutput[0],28,'#000','middle','waterfall-output-label');
  addLabel(g,xD(waterfallBase[0]),2966,'E[f(x)]='+MINUS+Math.abs(waterfallBase[0]),28,'#000','middle','waterfall-base-label');
  addLine(g,2500,3048,4204,3048,'#111',4,'waterfall-x-axis-line');
  waterfallTicks.forEach(t=>{
    addLabel(g,xD(t),3074,fmtTick(t,1),28,'#4d4d4d','middle','waterfall-x-tick-label');
  });
})();
</script>
</body>
</html>
